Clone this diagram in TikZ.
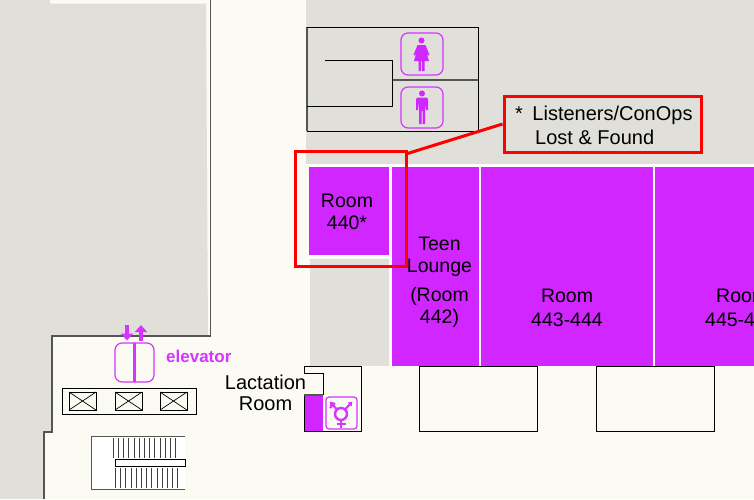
\documentclass[tikz,border=0pt]{standalone}
\usepackage{fontspec}
\setmainfont{Liberation Sans}
\usetikzlibrary{arrows.meta}
\definecolor{floorcream}{HTML}{FBFAF3}
\definecolor{floorgray}{HTML}{E0DFDA}
\definecolor{roompurple}{HTML}{D126FF}
\definecolor{iconpurple}{HTML}{D535FF}
\definecolor{walldark}{HTML}{555555}
\definecolor{calloutred}{HTML}{FF0000}
\tikzset{
  roomlabel/.style={align=center,inner sep=0pt,font=\fontsize{19.5}{22}\selectfont},
  redbox/.style={draw=calloutred,line width=3pt,inner sep=0pt},
  wall/.style={draw=walldark,line width=1.4pt},
  thinwall/.style={draw=black,line width=1pt},
  iconbox/.style={draw=iconpurple,line width=1.2pt,rounded corners=7pt},
  stairtick/.style={draw=black!75,line width=1pt},
  elevatorarrow/.style={iconpurple,line width=3.4pt,-{Triangle[length=7pt,width=12pt]}}
}
\begin{document}
\begin{tikzpicture}[x=1pt,y=-1pt]
    \useasboundingbox (0,0) rectangle (754,499);
    \clip (0,0) rectangle (754,499);
    \fill [floorcream] (0,0) rectangle (754,499);

    % gray areas
    \fill [floorgray] (0,0) -- (50,0) -- (50,3.5) -- (206,3.5) -- (208,336) -- (52,336)
      -- (52,432) -- (44,432) -- (44,499) -- (0,499) -- cycle;
    \fill [floorgray] (306,0) rectangle (754,164);
    \fill [floorgray] (310,259) rectangle (389,366);
    \fill [white] (306,164) rectangle (754,167);

    % rooms
    \fill [roompurple] (309,167) rectangle (389,255);
    \fill [roompurple] (392,167) rectangle (479,366);
    \fill [roompurple] (481,167) rectangle (653,366);
    \fill [roompurple] (655,167) rectangle (754,366);
    \fill [white] (309,255) rectangle (389,258);

    % outer wall
    \draw [wall] (210.5,0) -- (210.5,336) -- (52,336) -- (52,432) -- (44,432) -- (44,499);

    % restrooms
    \draw [wall] (307,131) -- (307,27);
    \draw [thinwall] (307,27) -- (478,27) -- (478,131) -- (307,131);
    \draw [wall] (392,80) -- (478,80);
    \draw [thinwall] (325,60) -- (392,60) -- (392,106) -- (307,106);
    \draw [iconbox] (401,33) rectangle (443,75);
    \draw [iconbox] (401,87) rectangle (443,128);
    % woman
    \fill [roompurple] (421.5,40.5) circle (3);
    \fill [roompurple] (417.5,45) -- (425.5,45) -- (429.5,55) -- (428,55.5) -- (426,51)
      -- (429,61) -- (424.5,61) -- (424.5,71) -- (422,71) -- (422,61) -- (421,61) -- (421,71)
      -- (418.5,71) -- (418.5,61) -- (414,61) -- (417,51) -- (415,55.5) -- (413.5,55) -- cycle;
    % man
    \fill [roompurple] (422,93.5) circle (3);
    \fill [roompurple] (417.5,97.5) -- (426.5,97.5) -- (428,99) -- (428,110) -- (426,110)
      -- (425,102) -- (425,124) -- (422.5,124) -- (422.5,111) -- (421.5,111) -- (421.5,124)
      -- (419,124) -- (419,102) -- (418,110) -- (416,110) -- (416,99) -- cycle;

    % elevator
    \draw [iconbox] (115,343) rectangle (154,382);
    \draw [iconpurple,line width=3.2pt] (134.5,343) -- (134.5,382);
    \draw [elevatorarrow] (127,325) -- (127,340.5);
    \draw [elevatorarrow] (141,340.5) -- (141,325);
    \node [anchor=west,inner sep=0pt,text=iconpurple,font=\fontsize{17}{18}\selectfont\bfseries] (ElevatorLabel) at (166,356) {elevator};
    \draw [thinwall] (62,388) rectangle (196,414);
    \foreach \x in {69,115,160} {
      \draw [thinwall] (\x,392) rectangle (\x+27,410);
      \draw [black,line width=.7pt] (\x,392) -- (\x+27,410);
      \draw [black,line width=.7pt] (\x,410) -- (\x+27,392);
    }

    % stairs
    \fill [white] (91,436) rectangle (185,489);
    \draw [wall,line width=1pt] (185,436) -- (91,436) -- (91,489) -- (185,489);
    \foreach \i in {0,...,12} {
      \draw [stairtick] (113.3+5.2*\i,438) -- (113.3+5.2*\i,458);
      \draw [stairtick] (115.5+5.2*\i,468) -- (115.5+5.2*\i,488);
    }
    \draw [thinwall,fill=white] (115,459.5) rectangle (185,466.5);

    % lactation room
    \fill [roompurple] (304,395) rectangle (323,431);
    \draw [thinwall] (304,373) -- (304,366) -- (361,366) -- (361,431) -- (304,431) -- (304,395);
    \draw [thinwall] (304,373) -- (323,373) -- (323,395);
    \draw [wall] (304,395) -- (323,395);
    \draw [iconbox,rounded corners=3pt] (326,397) rectangle (357,429);
    \draw [iconpurple,line width=2.4pt] (341,414) circle (6);
    \draw [iconpurple,line width=2.2pt] (341,420) -- (341,428);
    \draw [iconpurple,line width=2pt] (336.5,424) -- (345.5,424);
    \draw [iconpurple,line width=2.2pt,-{Latex[length=4pt,width=6pt]}] (337,409.5) -- (329.5,401.5);
    \draw [iconpurple,line width=2.2pt,-{Latex[length=4pt,width=6pt]}] (345,409.5) -- (352.5,401.5);
    \draw [iconpurple,line width=1.8pt] (330,408) -- (335,403);

    % lower rooms
    \draw [thinwall] (419,366) rectangle (537,431);
    \draw [thinwall] (596,366) rectangle (714,431);

    % labels
    \node [roomlabel] (Room440) at (347,212) {Room\\440*};
    \node [roomlabel] (Room442) at (439.5,282.5) {Teen\\Lounge\\[7pt](Room\\442)};
    \node [roomlabel] (Room443) at (567,308) {Room\\[2pt]443-444};
    \node [roomlabel,anchor=west] (Room445a) at (716,296) {Room};
    \node [roomlabel,anchor=west] (Room445b) at (705,320) {445-4};
    \node [roomlabel,font=\fontsize{20}{21}\selectfont] (LactationLabel) at (265.5,393) {Lactation\\Room};

    % callout
    \node [redbox,minimum width=197pt,minimum height=56pt] (CalloutBox) at (602.5,124) {};
    \node [redbox,minimum width=111pt,minimum height=115pt] (FrameBox) at (350.5,208.5) {};
    \node [anchor=west,inner sep=0pt,font=\fontsize{20}{22}\selectfont] (CalloutTop) at (515,115) {*\hspace{9.5pt}Listeners/ConOps};
    \node [anchor=west,inner sep=0pt,font=\fontsize{20}{22}\selectfont] (CalloutBottom) at (535,137) {Lost \& Found};
    \draw [draw=calloutred,line width=3pt] ([yshift=-4pt]FrameBox.north east) -- (CalloutBox.west);
\end{tikzpicture}
\end{document}
